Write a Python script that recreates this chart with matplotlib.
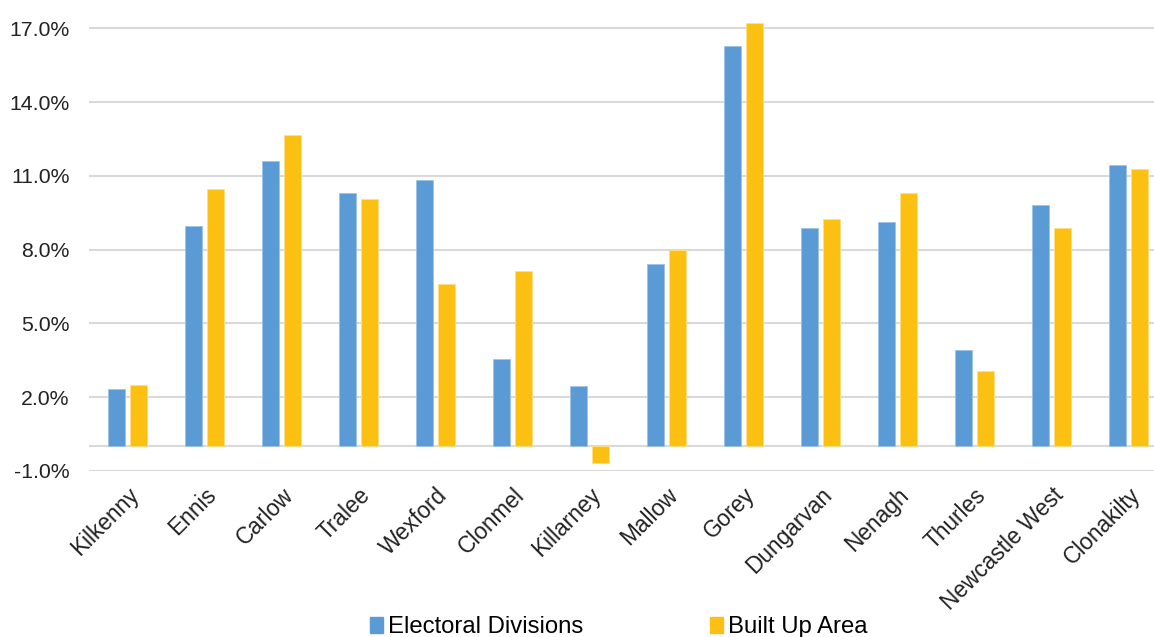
import matplotlib.pyplot as plt
import numpy as np
from matplotlib.patches import Patch
from matplotlib.ticker import FuncFormatter

plt.rcParams['font.family'] = ['Liberation Sans', 'DejaVu Sans']

towns = ['Kilkenny', 'Ennis', 'Carlow', 'Tralee', 'Wexford', 'Clonmel', 'Killarney',
         'Mallow', 'Gorey', 'Dungarvan', 'Nenagh', 'Thurles', 'Newcastle West', 'Clonakilty']
electoral_divisions = [2.32, 8.97, 11.59, 10.31, 10.85, 3.54, 2.47,
                       7.43, 16.30, 8.88, 9.11, 3.90, 9.81, 11.45]
built_up_area = [2.51, 10.45, 12.65, 10.04, 6.59, 7.14, -0.66,
                 7.98, 17.22, 9.23, 10.31, 3.06, 8.87, 11.29]
yticks = [-1, 2, 5, 8, 11, 14, 17]

blue = '#5B9BD5'
yellow = '#FCC012'

fig = plt.figure(figsize=(11.54, 6.37), dpi=100)
ax = fig.add_axes([89 / 1154, (637 - 471) / 637, 1 - 89 / 1154, 471 / 637])

x = np.arange(len(towns))
w = 0.22
off = 0.143
ax.bar(x - off, electoral_divisions, w, color=blue, edgecolor='#9DC3E6', linewidth=0.6, zorder=3)
ax.bar(x + off, built_up_area, w, color=yellow, edgecolor='#FFE080', linewidth=0.6, zorder=3)

ax.set_ylim(-1, 18.15)
ax.set_xlim(-0.5, (1154 - 89) / 77 - 0.5)
ax.set_yticks(yticks)
ax.yaxis.set_major_formatter(FuncFormatter(lambda v, p: f'{v:.1f}%'))
ax.grid(axis='y', color='#D9D9D9', linewidth=1.5, zorder=0)
ax.axhline(0, color='#D9D9D9', linewidth=1.5, zorder=1)
for s in ax.spines.values():
    s.set_visible(False)
ax.tick_params(axis='both', length=0, colors='#222222')
ax.tick_params(axis='y', pad=14, labelsize=15.3)
ax.set_xticks(x)
ax.set_xticklabels(towns, rotation=45, ha='right', rotation_mode='anchor')
ax.tick_params(axis='x', pad=9, labelsize=16.3)

handles = [Patch(color=blue), Patch(color=yellow)]
fig.legend(handles, ['Electoral Divisions', 'Built Up Area'], loc='center',
           bbox_to_anchor=(0.536, 0.015), ncol=2, frameon=False, fontsize=17.2,
           handlelength=0.55, handleheight=0.6, handletextpad=0.2, columnspacing=5.3)

fig.savefig('out.png', dpi=100)
